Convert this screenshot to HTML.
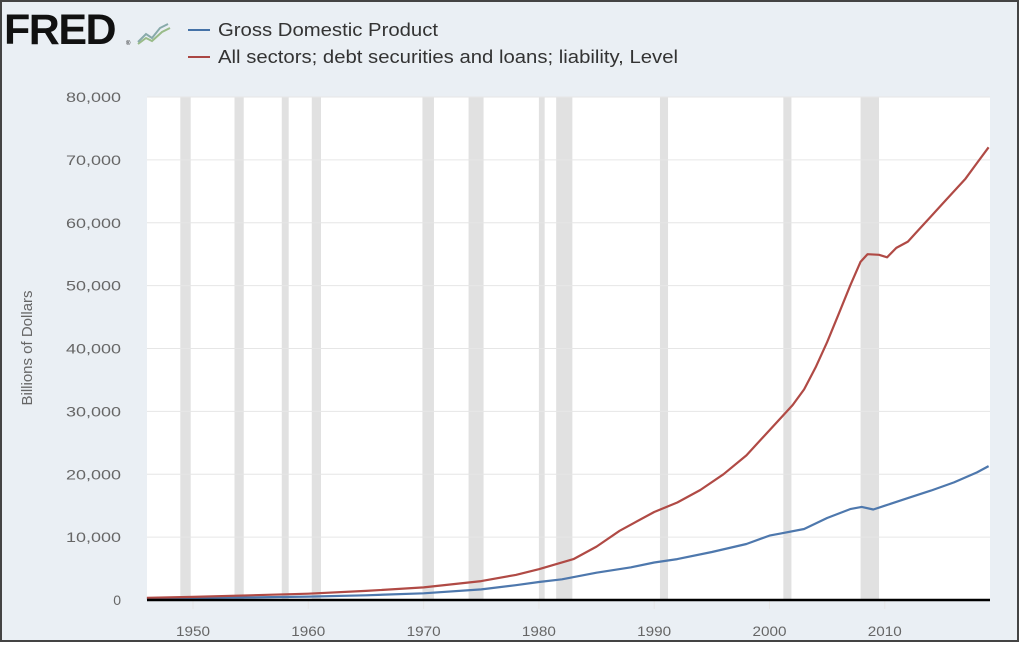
<!DOCTYPE html>
<html><head><meta charset="utf-8"><style>
html,body{margin:0;padding:0;background:#fff}
#c{position:relative;width:1024px;height:645px;overflow:hidden}
text{font-family:"Liberation Sans","DejaVu Sans",sans-serif}
</style></head><body><div id="c">
<svg id="s" width="1024" height="645" xmlns="http://www.w3.org/2000/svg">
<rect x="1" y="1" width="1017" height="640" fill="#eaeff4" stroke="#444" stroke-width="2"/>
<text x="4" y="44" font-size="43" font-weight="bold" fill="#111" letter-spacing="-1.5">FRED</text>
<text x="126" y="45" font-size="6" fill="#111">®</text>
<polyline points="138,42 146,34 152,38 160,28 168,24" fill="none" stroke="#8aa" stroke-width="2"/>
<polyline points="138,44 146,38 152,41 162,32 170,28" fill="none" stroke="#9b8" stroke-width="2"/>
<line x1="188" y1="30" x2="210" y2="30" stroke="#4572a7" stroke-width="2"/>
<text x="218" y="36" font-size="18" fill="#333" textLength="220" lengthAdjust="spacingAndGlyphs">Gross Domestic Product</text>
<line x1="188" y1="57" x2="210" y2="57" stroke="#aa4643" stroke-width="2"/>
<text x="218" y="63" font-size="18" fill="#333" textLength="460" lengthAdjust="spacingAndGlyphs">All sectors; debt securities and loans; liability, Level</text>
<rect x="147" y="97" width="843" height="503" fill="#fff"/>
<g id="rec" fill="#e1e1e1"></g>
<g id="grid" stroke="#e6e6e6" stroke-width="1"></g>
<g id="lab" font-size="14" fill="#666"></g>
<text transform="translate(32,348) rotate(-90)" text-anchor="middle" font-size="15" fill="#666">Billions of Dollars</text>
<polyline id="gdp" fill="none" stroke="#4e78ad" stroke-width="2.2" stroke-linejoin="round"/>
<polyline id="debt" fill="none" stroke="#b04a45" stroke-width="2.2" stroke-linejoin="round"/>
<line x1="147" y1="600" x2="990" y2="600" stroke="#000" stroke-width="2.5"/>
</svg></div>
<script>
var NS="http://www.w3.org/2000/svg";
function X(y){return 193+(y-1950)*11.53}
function Y(v){return 600-v*503/80000}
function el(p,t,a,txt){var e=document.createElementNS(NS,t);for(var k in a)e.setAttribute(k,a[k]);if(txt)e.textContent=txt;document.getElementById(p).appendChild(e);}
[[1948.9,1949.8],[1953.6,1954.4],[1957.7,1958.3],[1960.3,1961.1],[1969.9,1970.9],[1973.9,1975.2],[1980,1980.5],[1981.5,1982.9],[1990.5,1991.2],[2001.2,2001.9],[2007.9,2009.5]].forEach(function(r){el("rec","rect",{x:X(r[0]),y:97,width:X(r[1])-X(r[0]),height:503});});
for(var v=0;v<=80000;v+=10000){if(v>0)el("grid","line",{x1:147,x2:990,y1:Y(v),y2:Y(v)});var t=v==0?"0":(v/1000)+",000";var a={x:121,y:Y(v)+5,"text-anchor":"end"};if(v>0){a.textLength=v>=10000?55:48;a.lengthAdjust="spacingAndGlyphs";}el("lab","text",a,t);}
for(var yr=1950;yr<=2010;yr+=10){el("grid","line",{x1:X(yr),x2:X(yr),y1:600,y2:609});el("lab","text",{x:X(yr),y:636,"text-anchor":"middle",textLength:34,lengthAdjust:"spacingAndGlyphs"},""+yr);}
function interp(d){var pts=[];for(var i=0;i<d.length;i++)pts.push(X(d[i][0]).toFixed(1)+","+Y(d[i][1]).toFixed(1));return pts.join(" ");}
var gdp=[[1946,230],[1950,300],[1955,420],[1960,540],[1965,740],[1970,1070],[1975,1690],[1978,2350],[1980,2860],[1982,3300],[1985,4340],[1988,5200],[1990,5960],[1992,6500],[1995,7640],[1998,8900],[2000,10250],[2001,10600],[2003,11300],[2005,13040],[2007,14450],[2008,14800],[2009,14400],[2010,15000],[2012,16200],[2014,17400],[2016,18700],[2018,20300],[2019,21300]];
var debt=[[1946,350],[1950,500],[1955,750],[1960,1000],[1965,1450],[1970,2000],[1975,3000],[1978,4000],[1980,4900],[1983,6500],[1985,8500],[1987,11000],[1990,14000],[1992,15500],[1994,17500],[1996,20000],[1998,23000],[2000,27000],[2002,31000],[2003,33500],[2004,37000],[2005,41000],[2006,45500],[2007,50000],[2007.9,53800],[2008.5,55000],[2009.5,54900],[2010.2,54500],[2011,56000],[2012,57000],[2013,59000],[2014,61000],[2015,63000],[2016,65000],[2017,67000],[2018,69500],[2019,72000]];
document.getElementById("gdp").setAttribute("points",interp(gdp));
document.getElementById("debt").setAttribute("points",interp(debt));
</script></body></html>
